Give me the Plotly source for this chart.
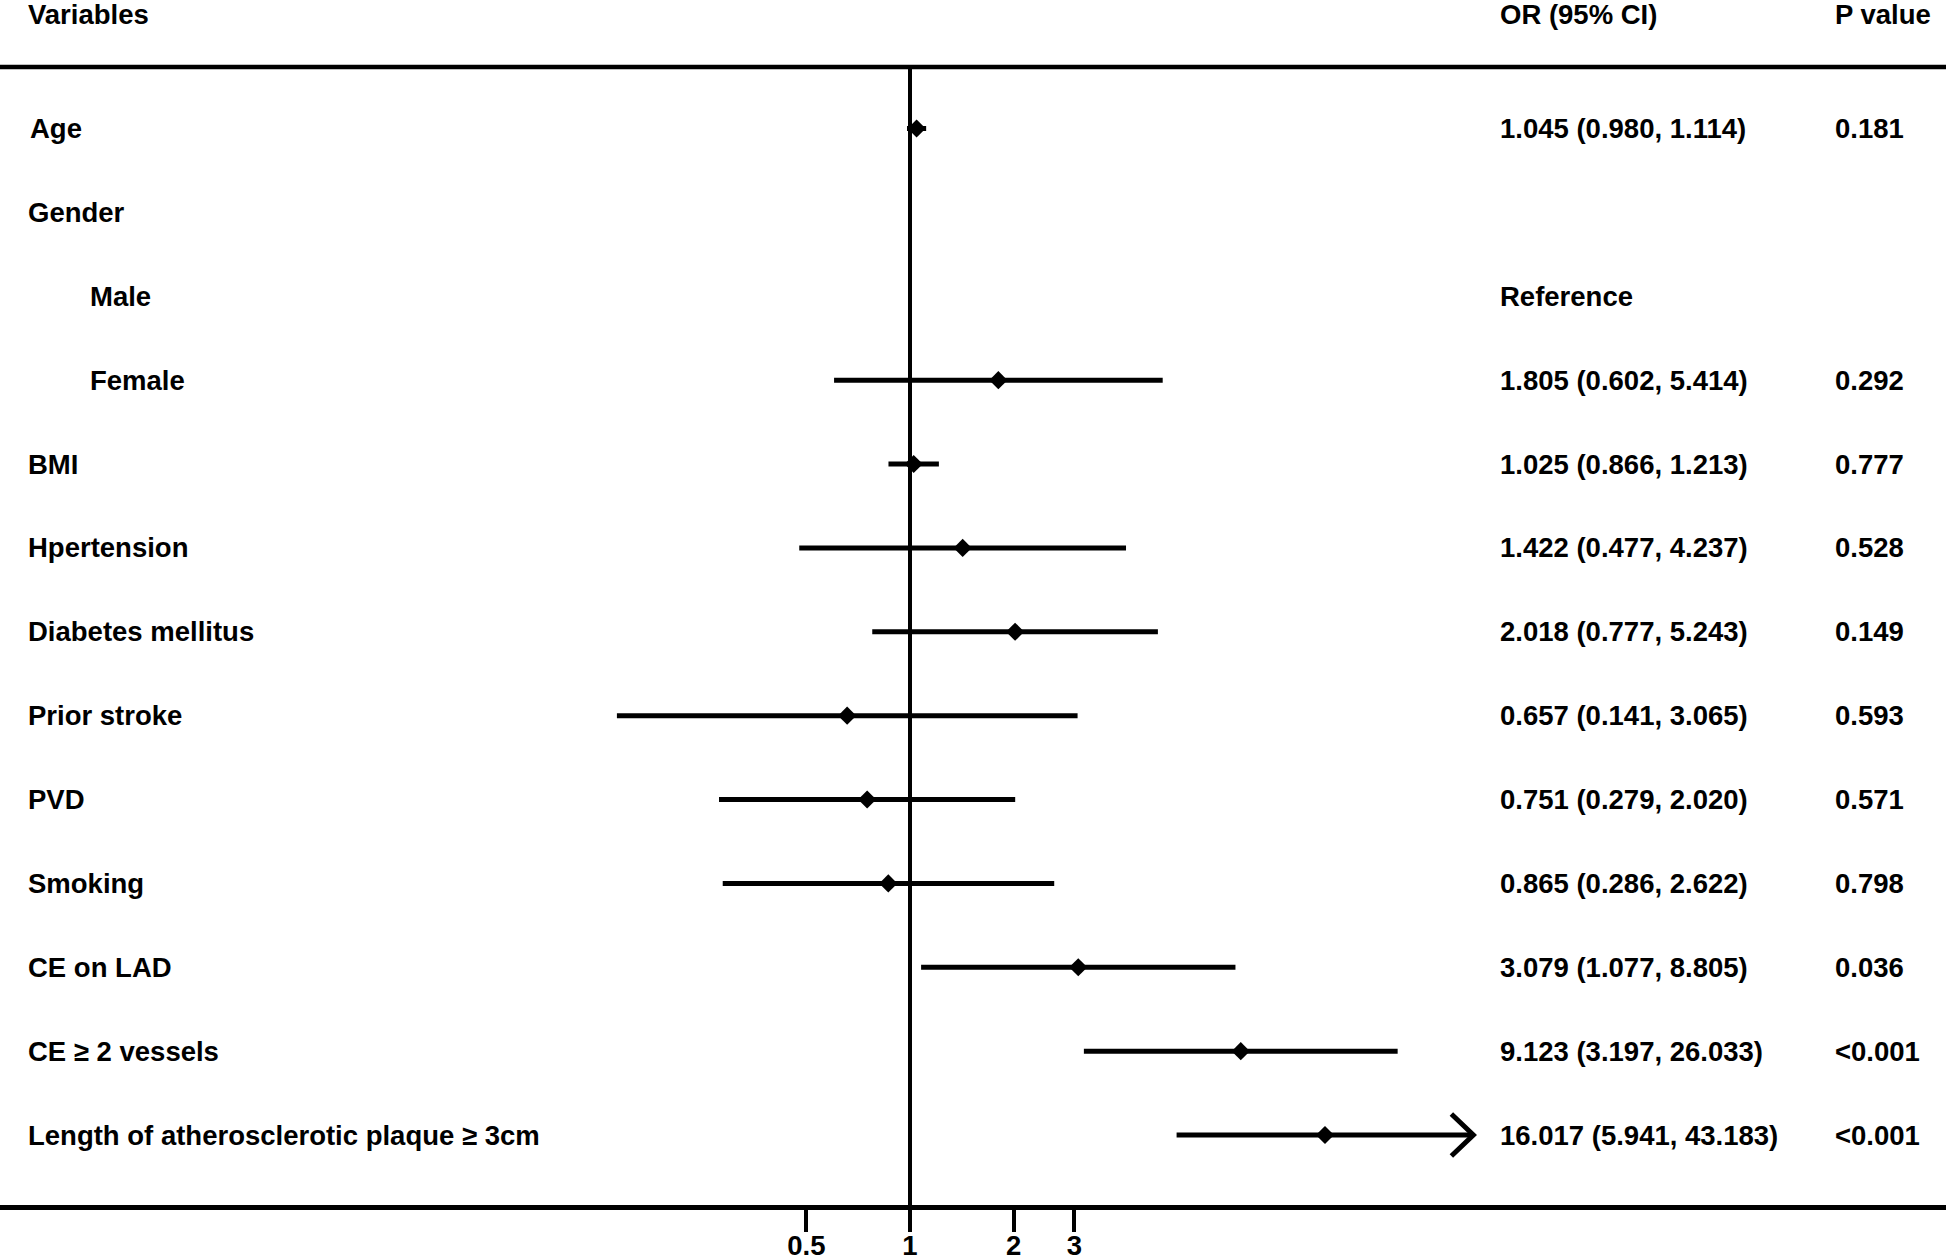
import plotly.graph_objects as go

# ---- data ----
labels = ["Age", "Gender", "Male", "Female", "BMI", "Hpertension", "Diabetes mellitus",
          "Prior stroke", "PVD", "Smoking", "CE on LAD", "CE \u2265 2 vessels",
          "Length of atherosclerotic plaque \u2265 3cm"]
indent = [0, 0, 1, 1, 0, 0, 0, 0, 0, 0, 0, 0, 0]
or_vals = [1.045, None, None, 1.805, 1.025, 1.422, 2.018, 0.657, 0.751, 0.865, 3.079, 9.123, 16.017]
ci_low = [0.980, None, None, 0.602, 0.866, 0.477, 0.777, 0.141, 0.279, 0.286, 1.077, 3.197, 5.941]
ci_high = [1.114, None, None, 5.414, 1.213, 4.237, 5.243, 3.065, 2.020, 2.622, 8.805, 26.033, 43.183]
or_text = ["1.045 (0.980, 1.114)", "", "Reference", "1.805 (0.602, 5.414)", "1.025 (0.866, 1.213)",
           "1.422 (0.477, 4.237)", "2.018 (0.777, 5.243)", "0.657 (0.141, 3.065)",
           "0.751 (0.279, 2.020)", "0.865 (0.286, 2.622)", "3.079 (1.077, 8.805)",
           "9.123 (3.197, 26.033)", "16.017 (5.941, 43.183)"]
p_text = ["0.181", "", "", "0.292", "0.777", "0.528", "0.149", "0.593", "0.571", "0.798",
          "0.036", "<0.001", "<0.001"]
arrow_rows = [12]  # CI truncated with arrow
headers = ["Variables", "OR (95% CI)", "P value"]
tick_vals = [0.5, 1, 2, 3]
tick_text = ["0.5", "1", "2", "3"]

# ---- layout constants ----
W, H = 1946, 1257
BOTTOM = 52
PLOT_H = H - BOTTOM
ROW0_PX, ROW_STEP = 128.5, 83.875
PX_PER_DEC, ONE_PX = 344.5, 910.0
FONT = dict(family="Liberation Sans, Arial, sans-serif", size=27.5, color="black", weight="bold")

rows = list(range(len(labels)))
y_top = -ROW0_PX / ROW_STEP
y_bot = (PLOT_H - ROW0_PX) / ROW_STEP
x_lo = -ONE_PX / PX_PER_DEC
x_hi = (W - ONE_PX) / PX_PER_DEC
rule_px = 67
rule_y = (rule_px - ROW0_PX) / ROW_STEP

fig = go.Figure()

# reference line at OR = 1
fig.add_trace(go.Scatter(x=[1, 1], y=[rule_y, y_bot], mode="lines",
                         line=dict(color="black", width=4), hoverinfo="skip", showlegend=False))

# CI lines
cx, cy = [], []
for i in rows:
    if or_vals[i] is not None:
        cx += [ci_low[i], ci_high[i], None]
        cy += [i, i, None]
fig.add_trace(go.Scatter(x=cx, y=cy, mode="lines", line=dict(color="black", width=5),
                         hoverinfo="skip", showlegend=False))

# point estimates
px_, py_ = [], []
for i in rows:
    if or_vals[i] is not None:
        px_.append(or_vals[i]); py_.append(i)
fig.add_trace(go.Scatter(x=px_, y=py_, mode="markers",
                         marker=dict(symbol="diamond", size=14, color="black"),
                         showlegend=False))

shapes = []
# top rule
shapes.append(dict(type="line", xref="paper", yref="paper", x0=0, x1=1,
                   y0=1 - rule_px / PLOT_H, y1=1 - rule_px / PLOT_H,
                   line=dict(color="black", width=4.5)))
# arrow heads
for i in arrow_rows:
    shapes.append(dict(type="path", xref="x", yref="y", xsizemode="pixel", ysizemode="pixel",
                       xanchor=ci_high[i], yanchor=i,
                       path="M -22,21 L 0,0 L -22,-21",
                       line=dict(color="black", width=5)))

annotations = []
head_y = 1 - 15 / PLOT_H
for txt, xp in zip(headers, [26, 1498, 1833]):
    annotations.append(dict(text=txt, x=xp / W, y=head_y, xref="paper", yref="paper",
                            xanchor="left", yanchor="middle", showarrow=False, font=FONT))
for i in rows:
    lx = 88 if indent[i] else (28 if i == 0 else 26)
    annotations.append(dict(text=labels[i], x=lx / W, y=i, xref="paper", yref="y",
                            xanchor="left", yanchor="middle", showarrow=False, font=FONT))
    if or_text[i]:
        annotations.append(dict(text=or_text[i], x=1498 / W, y=i, xref="paper", yref="y",
                                xanchor="left", yanchor="middle", showarrow=False, font=FONT))
    if p_text[i]:
        annotations.append(dict(text=p_text[i], x=1833 / W, y=i, xref="paper", yref="y",
                                xanchor="left", yanchor="middle", showarrow=False, font=FONT))

fig.update_layout(
    width=W, height=H,
    margin=dict(l=0, r=0, t=0, b=BOTTOM, pad=0, autoexpand=False),
    paper_bgcolor="white", plot_bgcolor="white",
    shapes=shapes, annotations=annotations,
    showlegend=False,
    xaxis=dict(type="log", range=[x_lo, x_hi], tickvals=tick_vals, ticktext=tick_text,
               ticks="outside", ticklen=22, tickwidth=4, tickcolor="black",
               showline=True, linewidth=5, linecolor="black", showgrid=False, zeroline=False,
               tickfont=FONT, fixedrange=True, automargin=False, ticklabelstandoff=-10),
    yaxis=dict(range=[y_bot, y_top], visible=False, showgrid=False, zeroline=False,
               fixedrange=True, automargin=False),
)

fig.write_html("out.html", config={"displayModeBar": False},
               post_script="document.body.style.margin='0px';document.body.style.overflow='hidden';")
